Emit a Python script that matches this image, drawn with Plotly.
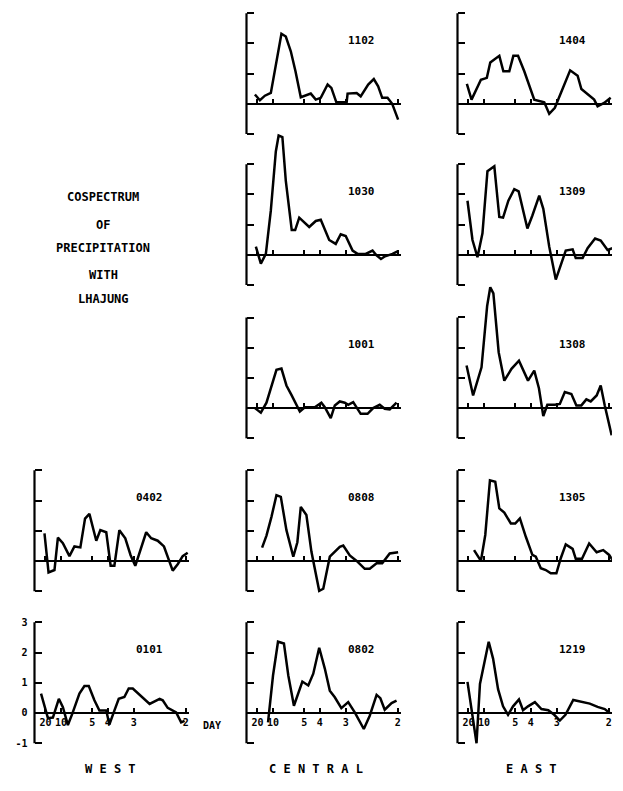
import plotly.graph_objects as go

# Cospectrum of precipitation with Lhajung, frequency in cycles/day
f_1102 = [0.042, 0.058, 0.074, 0.093, 0.127, 0.141, 0.157, 0.172, 0.189, 0.204, 0.221, 0.237, 0.253, 0.275, 0.287,
          0.303, 0.319, 0.336, 0.339, 0.357, 0.368, 0.381, 0.405, 0.423, 0.437, 0.450, 0.467, 0.482, 0.501]
c_1102 = [0.31, 0.12, 0.27, 0.36, 2.32, 2.23, 1.74, 1.08, 0.22, 0.27, 0.34, 0.14, 0.20, 0.64, 0.53,
          0.05, 0.05, 0.05, 0.34, 0.36, 0.36, 0.25, 0.64, 0.82, 0.58, 0.20, 0.20, 0.00, -0.52]

f_1404 = [0.045, 0.060, 0.090, 0.106, 0.109, 0.120, 0.133, 0.149, 0.162, 0.181, 0.194, 0.209, 0.229, 0.261, 0.293,
          0.309, 0.327, 0.346, 0.376, 0.400, 0.412, 0.453, 0.464, 0.485, 0.506]
c_1404 = [0.66, 0.14, 0.80, 0.86, 0.86, 1.37, 1.46, 1.59, 1.08, 1.08, 1.59, 1.59, 1.08, 0.14, 0.05,
          -0.33, -0.13, 0.36, 1.11, 0.93, 0.49, 0.14, -0.08, 0.03, 0.20]

f_1030 = [0.045, 0.061, 0.077, 0.093, 0.109, 0.118, 0.130, 0.141, 0.160, 0.171, 0.184, 0.216, 0.237, 0.253, 0.280,
          0.301, 0.317, 0.333, 0.355, 0.371, 0.397, 0.419, 0.430, 0.446, 0.459, 0.483, 0.499]
c_1030 = [0.27, -0.29, 0.03, 1.47, 3.42, 3.95, 3.90, 2.45, 0.82, 0.82, 1.23, 0.92, 1.12, 1.16, 0.49,
          0.36, 0.68, 0.62, 0.14, 0.03, 0.03, 0.14, 0.00, -0.14, -0.05, 0.03, 0.11]

f_1309 = [0.047, 0.063, 0.079, 0.095, 0.111, 0.133, 0.149, 0.161, 0.178, 0.197, 0.211, 0.239, 0.255, 0.277, 0.290,
          0.309, 0.330, 0.352, 0.362, 0.384, 0.394, 0.416, 0.432, 0.456, 0.474, 0.496, 0.512]
c_1309 = [1.79, 0.49, -0.08, 0.71, 2.77, 2.93, 1.25, 1.23, 1.79, 2.17, 2.10, 0.87, 1.30, 1.96, 1.52,
          0.27, -0.82, -0.11, 0.14, 0.18, -0.11, -0.11, 0.22, 0.54, 0.47, 0.16, 0.22]

f_1001 = [0.042, 0.061, 0.079, 0.093, 0.111, 0.127, 0.143, 0.159, 0.186, 0.202, 0.234, 0.255, 0.266, 0.285, 0.298,
          0.314, 0.330, 0.341, 0.357, 0.381, 0.403, 0.421, 0.442, 0.458, 0.474, 0.496]
c_1001 = [0.00, -0.15, 0.18, 0.64, 1.27, 1.31, 0.75, 0.44, -0.11, 0.03, 0.03, 0.18, 0.03, -0.33, 0.09,
          0.22, 0.18, 0.11, 0.20, -0.19, -0.19, 0.00, 0.11, -0.02, -0.04, 0.18]

f_1308 = [0.044, 0.065, 0.092, 0.110, 0.120, 0.130, 0.147, 0.165, 0.188, 0.212, 0.241, 0.261, 0.276, 0.290, 0.303,
          0.327, 0.343, 0.359, 0.380, 0.396, 0.412, 0.428, 0.442, 0.461, 0.474, 0.487, 0.509]
c_1308 = [1.41, 0.42, 1.35, 3.38, 4.00, 3.80, 1.85, 0.91, 1.30, 1.57, 0.91, 1.24, 0.66, -0.26, 0.11,
          0.11, 0.14, 0.53, 0.47, 0.09, 0.09, 0.29, 0.22, 0.42, 0.75, 0.09, -0.90]

f_0402 = [0.047, 0.060, 0.079, 0.090, 0.106, 0.127, 0.143, 0.162, 0.177, 0.191, 0.213, 0.226, 0.245, 0.259, 0.271,
          0.287, 0.306, 0.323, 0.338, 0.352, 0.373, 0.389, 0.410, 0.430, 0.442, 0.458, 0.474, 0.490, 0.506]
c_0402 = [0.91, -0.38, -0.30, 0.77, 0.59, 0.16, 0.48, 0.45, 1.40, 1.56, 0.67, 1.02, 0.95, -0.16, -0.16,
          1.02, 0.75, 0.19, -0.16, 0.27, 0.95, 0.75, 0.67, 0.48, 0.11, -0.32, -0.11, 0.16, 0.27]

f_0808 = [0.065, 0.079, 0.095, 0.111, 0.125, 0.143, 0.165, 0.178, 0.189, 0.207, 0.223, 0.234, 0.248, 0.261, 0.282,
          0.314, 0.325, 0.346, 0.368, 0.394, 0.410, 0.432, 0.450, 0.474, 0.501]
c_0808 = [0.44, 0.84, 1.46, 2.18, 2.12, 1.02, 0.14, 0.62, 1.79, 1.52, 0.31, -0.24, -0.99, -0.92, 0.14,
          0.47, 0.51, 0.18, 0.00, -0.26, -0.26, -0.08, -0.08, 0.25, 0.29]

f_1305 = [0.068, 0.080, 0.090, 0.104, 0.119, 0.136, 0.149, 0.165, 0.186, 0.200, 0.215, 0.234, 0.255, 0.266, 0.282,
          0.298, 0.314, 0.332, 0.346, 0.362, 0.384, 0.394, 0.414, 0.437, 0.461, 0.482, 0.501, 0.512]
c_1305 = [0.36, 0.18, 0.00, 0.86, 2.67, 2.62, 1.74, 1.60, 1.24, 1.24, 1.41, 0.80, 0.20, 0.14, -0.24,
          -0.30, -0.41, -0.41, 0.09, 0.55, 0.40, 0.07, 0.07, 0.58, 0.29, 0.36, 0.20, 0.03]

f_0101 = [0.036, 0.058, 0.074, 0.093, 0.106, 0.122, 0.136, 0.159, 0.175, 0.189, 0.207, 0.223, 0.245, 0.255, 0.271,
          0.285, 0.303, 0.317, 0.330, 0.349, 0.384, 0.416, 0.426, 0.442, 0.469, 0.485, 0.496]
c_0101 = [0.64, -0.17, -0.15, 0.47, 0.19, -0.40, -0.03, 0.64, 0.89, 0.89, 0.42, 0.08, 0.08, -0.38, 0.08,
          0.47, 0.53, 0.81, 0.81, 0.64, 0.30, 0.47, 0.42, 0.17, 0.02, -0.31, -0.26]

f_0802 = [0.084, 0.100, 0.116, 0.135, 0.149, 0.167, 0.194, 0.213, 0.229, 0.248, 0.266, 0.282, 0.298, 0.319, 0.341,
          0.362, 0.391, 0.410, 0.432, 0.444, 0.458, 0.480, 0.496]
c_0802 = [-0.31, 1.24, 2.36, 2.30, 1.24, 0.24, 1.04, 0.91, 1.30, 2.16, 1.47, 0.74, 0.52, 0.16, 0.36,
          0.02, -0.53, -0.09, 0.60, 0.49, 0.11, 0.33, 0.41]

f_1219 = [0.047, 0.062, 0.076, 0.087, 0.115, 0.129, 0.145, 0.161, 0.177, 0.193, 0.212, 0.225, 0.241, 0.263, 0.284,
          0.306, 0.325, 0.343, 0.361, 0.386, 0.412, 0.439, 0.464, 0.487, 0.503]
c_1219 = [1.03, -0.11, -1.00, 0.96, 2.36, 1.80, 0.79, 0.22, -0.06, 0.22, 0.45, 0.09, 0.22, 0.36, 0.13,
          0.09, -0.06, -0.25, -0.06, 0.43, 0.36, 0.31, 0.20, 0.13, 0.00]

# Period ticks (days) on the frequency axis
periods = [20, 10, 5, 4, 3, 2]
tick_freq = [1.0 / p for p in periods]
tick_text = [str(p) for p in periods]
y_ticks = [-1, 0, 1, 2, 3]
y_tick_text = ["-1", "0", "1", "2", "3"]

title_lines = ["COSPECTRUM", "OF", "PRECIPITATION", "WITH", "LHAJUNG"]
column_names = ["W E S T", "C E N T R A L", "E A S T"]

# (station, freq, values, column, row)
panels = [
    ("1102", f_1102, c_1102, 1, 0),
    ("1404", f_1404, c_1404, 2, 0),
    ("1030", f_1030, c_1030, 1, 1),
    ("1309", f_1309, c_1309, 2, 1),
    ("1001", f_1001, c_1001, 1, 2),
    ("1308", f_1308, c_1308, 2, 2),
    ("0402", f_0402, c_0402, 0, 3),
    ("0808", f_0808, c_0808, 1, 3),
    ("1305", f_1305, c_1305, 2, 3),
    ("0101", f_0101, c_0101, 0, 4),
    ("0802", f_0802, c_0802, 1, 4),
    ("1219", f_1219, c_1219, 2, 4),
]

FIG_W, FIG_H = 623, 791
PX_PER_UNIT = 30.4
PX_PER_FREQ = 312.0
X_RANGE = [0.015, 0.51]
Y_LOW = -1.12
COL_AXIS_PX = [34.5, 246.5, 457.5]
ROW_ZERO_PX = [101.5, 253.4, 407.7, 561.5, 714.5]

MONO = "DejaVu Sans Mono"

fig = go.Figure()
shapes, annotations = [], []

for i, (name, fx, cy, col, row) in enumerate(panels, start=1):
    sfx = "" if i == 1 else str(i)
    y_high = max(3.08, max(cy) + 0.12)
    ax_px = COL_AXIS_PX[col]
    zero_px = ROW_ZERO_PX[row]
    x_dom = [ax_px / FIG_W, (ax_px + (X_RANGE[1] - X_RANGE[0]) * PX_PER_FREQ) / FIG_W]
    top_px = zero_px - y_high * PX_PER_UNIT
    bot_px = zero_px - Y_LOW * PX_PER_UNIT
    y_dom = [1 - bot_px / FIG_H, 1 - top_px / FIG_H]
    bottom_row = row == 4

    fig.add_trace(go.Scatter(
        x=fx, y=cy, mode="lines",
        line=dict(color="black", width=2.5),
        xaxis="x" + sfx, yaxis="y" + sfx,
        showlegend=False, hoverinfo="skip",
    ))

    fig.layout["xaxis" + sfx] = dict(
        domain=x_dom, range=X_RANGE, anchor="free", position=1 - zero_px / FIG_H,
        showline=True, linecolor="black", linewidth=2.2,
        ticks="inside", ticklen=4, tickwidth=1.5, tickcolor="black",
        tickmode="array", tickvals=tick_freq, ticktext=tick_text,
        showticklabels=bottom_row,
        tickfont=dict(family=MONO, size=10, color="black", weight="bold"),
        showgrid=False, zeroline=False, fixedrange=True,
    )
    fig.layout["yaxis" + sfx] = dict(
        domain=y_dom, range=[Y_LOW, y_high], anchor="x" + sfx,
        showline=False,
        ticks="inside", ticklen=7, tickwidth=2, tickcolor="black",
        tickmode="array", tickvals=y_ticks, ticktext=y_tick_text,
        showticklabels=(name == "0101"), ticklabelstandoff=6,
        tickfont=dict(family=MONO, size=10, color="black", weight="bold"),
        showgrid=False, zeroline=False, fixedrange=True,
    )
    # vertical bracket of the value axis, from -1 to 3
    shapes.append(dict(
        type="line", xref="x" + sfx + " domain", x0=0, x1=0,
        yref="y" + sfx, y0=y_ticks[0], y1=y_ticks[-1],
        line=dict(color="black", width=2.2),
    ))
    annotations.append(dict(
        text=name, xref="x" + sfx, yref="y" + sfx, x=0.385, y=2.1,
        showarrow=False, xanchor="center", yanchor="middle",
        font=dict(family=MONO, size=11, color="black", weight="bold"),
    ))

# "DAY" after the period labels of the lower-left panel
annotations.append(dict(
    text="DAY", xref="paper", yref="paper", x=201 / FIG_W, y=1 - 727 / FIG_H,
    showarrow=False, xanchor="left", yanchor="middle",
    font=dict(family=MONO, size=10, color="black", weight="bold"),
))

# Title block on the left
title_y_px = [195, 223, 247, 274, 298]
for txt, ypx in zip(title_lines, title_y_px):
    annotations.append(dict(
        text=txt, xref="paper", yref="paper", x=103 / FIG_W, y=1 - ypx / FIG_H,
        showarrow=False, xanchor="center", yanchor="middle",
        font=dict(family=MONO, size=12, color="black", weight="bold"),
    ))

# Region names under each column
col_center_px = [110, 316, 531]
for txt, xpx in zip(column_names, col_center_px):
    annotations.append(dict(
        text=txt, xref="paper", yref="paper", x=xpx / FIG_W, y=1 - 771 / FIG_H,
        showarrow=False, xanchor="center", yanchor="middle",
        font=dict(family=MONO, size=12, color="black", weight="bold"),
    ))

fig.update_layout(
    width=FIG_W, height=FIG_H, autosize=False,
    margin=dict(l=0, r=0, t=0, b=0),
    paper_bgcolor="white", plot_bgcolor="rgba(0,0,0,0)",
    shapes=shapes, annotations=annotations,
    showlegend=False,
)

fig.write_html("out.html")
